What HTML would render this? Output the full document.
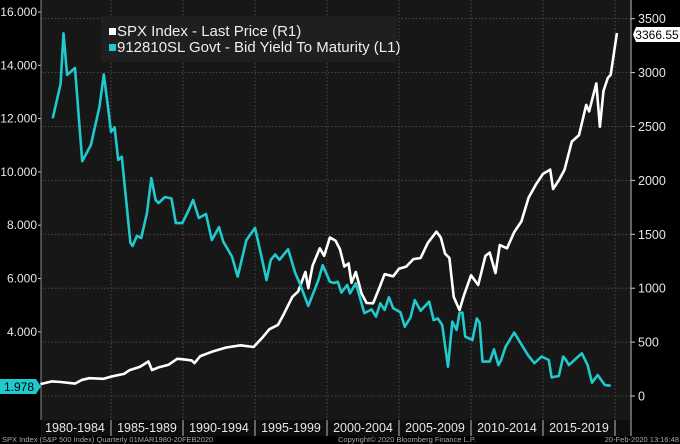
<!DOCTYPE html>
<html><head><meta charset="utf-8"><style>
html,body{margin:0;padding:0;background:#000;}
svg{display:block;font-family:"Liberation Sans",sans-serif;}
</style></head><body>
<svg id="chart" width="680" height="444" viewBox="0 0 680 444" xmlns="http://www.w3.org/2000/svg">
<rect x="0" y="0" width="680" height="444" fill="#000"/>
<rect x="41" y="0" width="590" height="420" fill="#171717"/>
<rect x="41" y="420" width="590" height="16" fill="#0e0e0e"/>
<g id="grid"></g>
<g id="axes"></g>
<g id="series"></g>
<g>
<rect x="101" y="16" width="296" height="46" fill="#1f1f1f"/>
<rect x="109" y="28" width="7" height="7" fill="#fff"/>
<text x="117" y="36" fill="#eee" font-size="15">SPX Index - Last Price (R1)</text>
<rect x="109" y="44" width="7" height="7" fill="#1fc9cc"/>
<text x="117" y="52" fill="#eee" font-size="15">912810SL Govt - Bid Yield To Maturity (L1)</text>
</g>
<g>
<polygon points="0,379 36,379 41,386.5 36,394 0,394" fill="#1fc9cc"/>
<text x="19" y="391" fill="#000" font-size="12" text-anchor="middle">1.978</text>
</g>
<g>
<polygon points="636,27 680,27 680,42 636,42 633,34.5" fill="#fff"/>
<text x="657" y="39" fill="#000" font-size="12" text-anchor="middle">3366.55</text>
</g>
<text x="2" y="442" fill="#aaa" font-size="7.5">SPX Index (S&amp;P 500 Index)  Quarterly 01MAR1980-20FEB2020</text>
<text x="338" y="442" fill="#aaa" font-size="7.5">Copyright© 2020 Bloomberg Finance L.P.</text>
<text x="679" y="442" fill="#aaa" font-size="7.5" text-anchor="end">20-Feb-2020 13:16:48</text>
</svg>
<script>
const leftTicks = [4, 6, 8, 10, 12, 14, 16];
const leftTickLabels = ["4.000","6.000","8.000","10.000","12.000","14.000","16.000"];
const rightTicks = [0, 500, 1000, 1500, 2000, 2500, 3000, 3500];
const periodLabels = ["1980-1984","1985-1989","1990-1994","1995-1999","2000-2004","2005-2009","2010-2014","2015-2019"];
const periodStarts = [1980,1985,1990,1995,2000,2005,2010,2015,2020];

const yieldDates = [1980.95,1981.5,1981.7,1981.95,1982.5,1983.0,1983.6,1984.2,1984.5,1984.85,1985.0,1985.25,1985.5,1985.75,1986.35,1986.5,1986.8,1987.1,1987.5,1987.8,1988.1,1988.3,1988.75,1989.2,1989.5,1989.95,1990.4,1990.7,1991.1,1991.6,1992.0,1992.5,1992.8,1993.4,1993.8,1994.4,1995.0,1995.5,1995.8,1996.1,1996.4,1996.7,1997.3,1997.8,1998.1,1998.7,1999.4,1999.7,2000.2,2000.5,2000.75,2001.0,2001.4,2001.6,2002.0,2002.6,2003.1,2003.4,2003.7,2004.0,2004.3,2004.6,2005.1,2005.4,2005.8,2006.1,2006.5,2007.1,2007.4,2007.7,2008.0,2008.4,2008.7,2009.0,2009.2,2009.4,2009.6,2010.1,2010.4,2010.6,2010.8,2011.3,2011.6,2011.9,2012.1,2012.4,2013.0,2013.6,2014.0,2014.4,2014.9,2015.4,2015.6,2016.1,2016.4,2016.6,2016.8,2017.3,2017.7,2018.1,2018.4,2018.8,2019.3,2019.7,2019.95,2020.1];
const yieldValues = [12.01,13.3,15.2,13.64,13.9,10.4,11.0,12.45,13.66,12.2,11.5,11.67,10.45,10.57,7.34,7.22,7.6,7.52,8.46,9.77,8.95,8.83,9.06,9.0,8.08,8.08,8.57,8.95,8.27,8.42,7.44,7.93,7.38,6.82,6.07,7.44,7.9,6.7,5.94,6.7,6.9,6.7,7.1,6.2,5.83,4.97,5.94,6.5,5.88,5.83,5.88,5.47,5.76,5.44,5.82,4.7,4.84,4.57,5.07,4.82,5.3,4.88,4.73,4.19,4.54,5.19,4.79,5.13,4.44,4.5,4.25,2.69,4.38,4.07,4.7,4.72,3.82,3.69,4.5,4.34,2.88,2.88,3.34,2.75,2.94,3.44,3.97,3.44,3.09,2.82,3.07,2.94,2.29,2.34,3.07,2.94,2.75,3.0,3.19,2.75,2.09,2.38,2.0,1.978];

const spxDates = [1980.1,1980.9,1981.5,1982.5,1983.0,1983.5,1984.5,1985.0,1985.9,1986.3,1987.0,1987.6,1987.85,1988.3,1989.0,1989.6,1990.0,1990.6,1990.8,1991.2,1992.0,1993.0,1994.0,1994.9,1995.5,1996.0,1996.6,1997.0,1997.6,1998.0,1998.5,1998.7,1999.0,1999.5,1999.8,2000.2,2000.6,2000.9,2001.2,2001.5,2001.7,2002.0,2002.4,2002.75,2003.2,2003.6,2004.0,2004.6,2005.0,2005.5,2006.0,2006.5,2007.0,2007.6,2007.9,2008.2,2008.5,2008.8,2009.2,2009.5,2010.0,2010.5,2011.0,2011.3,2011.7,2012.0,2012.5,2013.0,2013.5,2014.0,2014.5,2015.0,2015.5,2015.7,2016.1,2016.5,2017.0,2017.5,2018.0,2018.2,2018.7,2018.95,2019.2,2019.5,2019.7,2020.13];
const spxValues = [110,135,130,115,150,165,160,180,205,240,270,320,240,265,290,345,340,330,305,370,410,450,470,455,540,620,660,760,920,970,1150,1000,1210,1370,1300,1470,1440,1360,1200,1230,1050,1150,950,863,860,990,1130,1110,1180,1200,1270,1280,1420,1524,1470,1320,1280,920,797,930,1120,1030,1300,1330,1140,1400,1370,1520,1620,1840,1960,2060,2100,1920,2000,2100,2360,2420,2700,2640,2900,2498,2830,2950,2980,3366];

const svgNS = "http://www.w3.org/2000/svg";
const PL = 41, PR = 631, PT = 0, PB = 420;
function xOf(yr){ return 39 + (yr - 1980) * 14.4; }
function yLeft(v){ return 12 + (16 - v) * 26.65; }
function yRight(v){ return 396 - v * 0.1078; }
function mk(tag, attrs, parent){ const e = document.createElementNS(svgNS, tag); for (const k in attrs) e.setAttribute(k, attrs[k]); parent.appendChild(e); return e; }

const grid = document.getElementById('grid');
const axes = document.getElementById('axes');
const series = document.getElementById('series');

rightTicks.forEach(function(v){
  const y = yRight(v);
  const g = mk('line', {x1:PL, x2:PR, y1:y, y2:y, stroke:'#555', 'stroke-width':0.8, 'stroke-dasharray':'1.5,2'}, grid);
  
  
  const t = mk('line', {x1:PR, x2:PR+4, y1:y, y2:y, stroke:'#ccc', 'stroke-width':1}, axes);
  
  
  const l = mk('text', {x:PR+7, y:y+4.5, fill:'#e6e6e6', 'font-size':12.5}, axes);
  l.textContent = String(v);
  
  
});
leftTicks.forEach(function(v, i){
  const y = yLeft(v);
  const t = mk('line', {x1:PL-3, x2:PL, y1:y, y2:y, stroke:'#ccc', 'stroke-width':1}, axes);
  
  
  const l = mk('text', {x:PL-4, y:y+4, fill:'#e6e6e6', 'font-size':12, 'text-anchor':'end'}, axes);
  l.textContent = leftTickLabels[i];
  
  
});
periodStarts.forEach(function(yr, i){
  const x = xOf(yr);
  if (i > 0 && x < PR) {
    const g = mk('line', {x1:x, x2:x, y1:PT, y2:PB, stroke:'#555', 'stroke-width':0.8, 'stroke-dasharray':'1.5,2'}, grid);
    
    
    const d = mk('line', {x1:x, x2:x, y1:PB, y2:436, stroke:'#bbb', 'stroke-width':1}, axes);
    
    
  }
  if (i < periodLabels.length) {
    const cx = (xOf(yr) + xOf(periodStarts[i+1])) / 2;
    const l = mk('text', {x:cx, y:432, fill:'#e6e6e6', 'font-size':12.5, 'text-anchor':'middle'}, axes);
    l.textContent = periodLabels[i];
    
    
  }
});
mk('line', {x1:PL, x2:PL, y1:PT, y2:PB, stroke:'#888', 'stroke-width':1}, axes);
mk('line', {x1:PR, x2:PR, y1:PT, y2:436, stroke:'#bbb', 'stroke-width':1}, axes);

const spxPts = spxDates.map(function(d, i){ return xOf(d).toFixed(1) + ',' + yRight(spxValues[i]).toFixed(1); }).join(' ');
const spxLine = mk('polyline', {points:spxPts, fill:'none', stroke:'#fff', 'stroke-width':2.6, 'stroke-linejoin':'round'}, series);



const yPts = yieldDates.map(function(d, i){ return xOf(d).toFixed(1) + ',' + yLeft(yieldValues[i]).toFixed(1); }).join(' ');
const yLine = mk('polyline', {points:yPts, fill:'none', stroke:'#1fc9cc', 'stroke-width':2.6, 'stroke-linejoin':'round'}, series);


</script>
</body></html>
